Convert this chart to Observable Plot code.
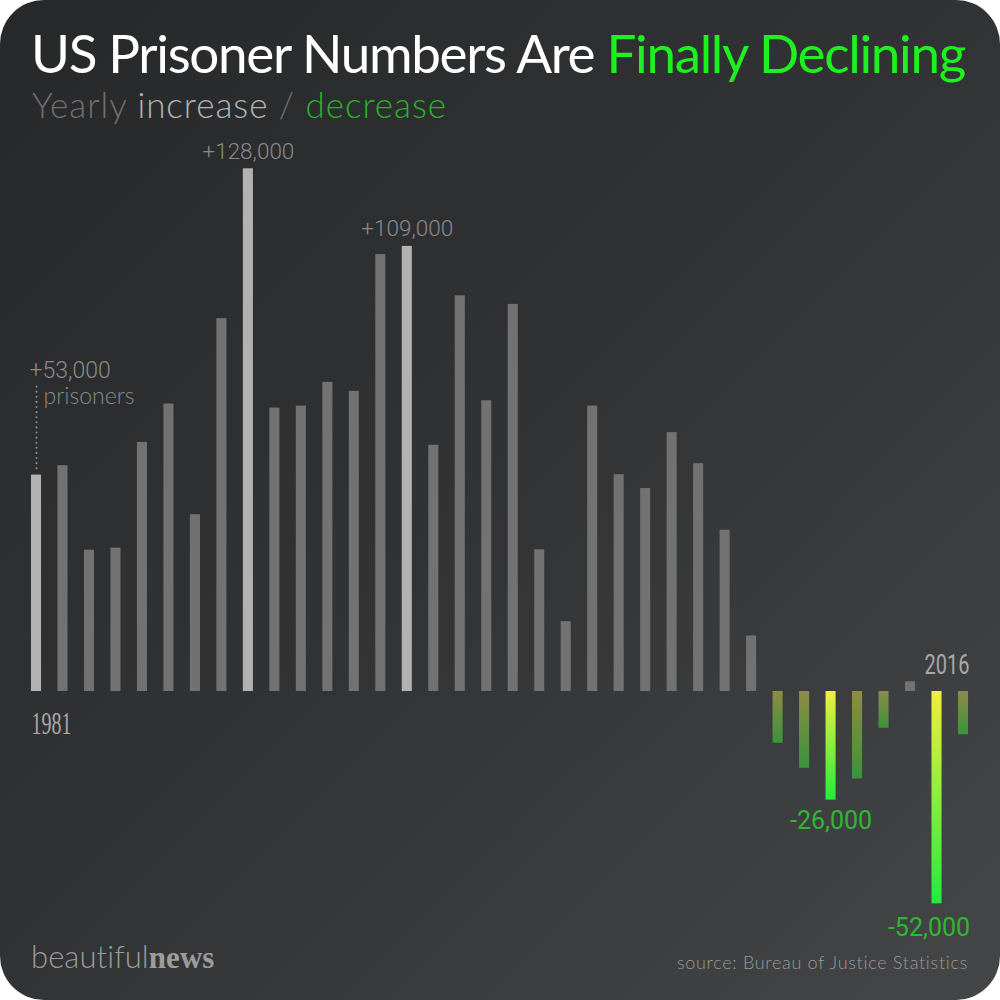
<!DOCTYPE html>
<html><head><meta charset="utf-8">
<script src="https://cdn.jsdelivr.net/npm/d3@7"></script>
<script src="https://cdn.jsdelivr.net/npm/@observablehq/plot@0.6"></script>
<style>
html,body{margin:0;padding:0;background:#fff;}
#card{position:relative;width:1000px;height:1000px;border-radius:44px;overflow:hidden;
  background:linear-gradient(135deg,#27282a 0%,#323335 50%,#454648 100%);font-family:Lato,"Noto Sans",sans-serif;}
.abs{position:absolute;white-space:nowrap;line-height:1;}
#title{left:31px;top:26px;font-size:53px;color:#fff;font-weight:400;}
#title .g{color:#1ff01f;}
#subtitle{left:32px;top:87px;font-size:35px;font-weight:300;color:#707070;}
#subtitle .inc{color:#b4b4b4;}
#subtitle .dec{color:#25b525;}
#brand{left:31px;top:941px;font-size:31px;color:#9c9c9c;}
#brand .b1{font-family:Lato,sans-serif;font-weight:300;}
#brand .b2{font-family:"Liberation Serif",serif;font-weight:700;}
#source{right:32px;top:953px;font-size:18px;font-weight:300;color:#9a9a9a;}
#chart{position:absolute;left:0;top:0;}
</style></head>
<body>
<div id="card">
  <div id="title" class="abs">US Prisoner Numbers Are <span class="g">Finally Declining</span></div>
  <div id="subtitle" class="abs">Yearly <span class="inc">increase</span> / <span class="dec">decrease</span></div>
  <div id="chart"></div>
  <div id="brand" class="abs"><span class="b1">beautiful</span><span class="b2">news</span></div>
  <div id="source" class="abs">source: Bureau of Justice Statistics</div>
</div>
<script>
// Yearly change in US prisoner numbers
const years = [1981,1982,1983,1984,1985,1986,1987,1988,1989,1990,1991,1992,1993,1994,1995,1996,1997,1998,
               1999,2000,2001,2002,2003,2004,2005,2006,2007,2008,2009,2010,2011,2012,2013,2014,2015,2016];
const changes = [53000,55300,34600,35100,61000,70400,43300,91300,128000,69400,69900,75700,73500,107000,109000,60300,96900,71200,
                 94800,34700,17100,69900,53100,49700,63400,55800,39500,13600,-12700,-18800,-26600,-21400,-9000,2400,-52000,-10600];
const highlightYears = [1981, 1989, 1995, 2011, 2015];
const peakLabelYears = [1989, 1995];
const peakLabels = ["+128,000", "+109,000"];
const dropLabelYears = [2011, 2015];
const dropLabels = ["-26,000", "-52,000"];
const firstLabel = ["+53,000", "prisoners"];
const yearTicks = [1981, 2016];

const data = years.map((year, i) => ({year, value: changes[i]}));
const byYear = new Map(data.map(d => [d.year, d]));
const peaks = peakLabelYears.map((y, i) => ({...byYear.get(y), label: peakLabels[i]}));
const drops = dropLabelYears.map((y, i) => ({...byYear.get(y), label: dropLabels[i]}));
const first = byYear.get(years[0]);

const isHi = d => highlightYears.includes(d.year);
const fillOf = d => d.value >= 0
  ? (isHi(d) ? "#b2b2b2" : "#727272")
  : (isHi(d) ? "url(#negHi)" : "url(#negLo)");

const gray = "#8a8a8a";
const green = "#2fb82f";

const svg = Plot.plot({
  width: 1000,
  height: 1000,
  style: {background: "transparent", overflow: "visible"},
  x: {type: "band", domain: years, range: [14.55, 984.45], padding: 0.62, round: false, axis: null},
  y: {type: "linear", domain: [0, 128000], range: [691, 168.3], axis: null},
  marks: [
    Plot.barY(data, {x: "year", y: "value", fill: fillOf}),
    Plot.ruleX([first], {x: "year", y1: "value", y2: "value", insetTop: -88, insetBottom: 5,
      stroke: "#8a8a8a", strokeWidth: 2, strokeDasharray: "0.1,5", strokeLinecap: "round"}),
    Plot.text([first], {x: "year", y: "value", text: () => firstLabel[0], textAnchor: "start", lineAnchor: "bottom",
      dx: -7, dy: -97, fontSize: 23, fill: gray, fontFamily: "Roboto", fontWeight: 300}),
    Plot.text([first], {x: "year", y: "value", text: () => firstLabel[1], textAnchor: "start", lineAnchor: "bottom",
      dx: 7, dy: -71, fontSize: 23, fill: gray, fontFamily: "Lato", fontWeight: 300}),
    Plot.text(peaks, {x: "year", y: "value", text: "label", textAnchor: "middle", lineAnchor: "bottom",
      dy: -10, fontSize: 22.5, fill: gray, fontFamily: "Roboto", fontWeight: 300}),
    Plot.text(drops.slice(0, 1), {x: "year", y: "value", text: "label", textAnchor: "middle", lineAnchor: "bottom",
      dy: 29, fontSize: 25, fill: green, fontFamily: "Roboto"}),
    Plot.text(drops.slice(1), {x: "year", y: "value", text: "label", textAnchor: "middle", lineAnchor: "bottom",
      dx: -8, dy: 32, fontSize: 25, fill: green, fontFamily: "Roboto"}),
    Plot.text([yearTicks[0]], {x: d => d, y: () => 0, text: d => String(d), textAnchor: "start", lineAnchor: "bottom",
      dx: -5, dy: 42, fontSize: 31, fill: "#a8a8a8", fontFamily: "Liberation Serif"}),
    Plot.text([yearTicks[1]], {x: d => d, y: () => 0, text: d => String(d), textAnchor: "end", lineAnchor: "bottom",
      dx: 6, dy: -18, fontSize: 27, fill: "#a8a8a8", fontFamily: "Roboto"})
  ]
});

// gradients for the decrease bars
const defs = d3.select(svg).insert("defs", ":first-child");
const grad = (id, c0, c1) => {
  const g = defs.append("linearGradient").attr("id", id).attr("x1", 0).attr("y1", 0).attr("x2", 0).attr("y2", 1);
  g.append("stop").attr("offset", "0%").attr("stop-color", c0);
  g.append("stop").attr("offset", "100%").attr("stop-color", c1);
};
grad("negLo", "#8e8c45", "#3b943b");
grad("negHi", "#f2ef3e", "#22ec3c");

// condensed year labels
const lens = {[String(yearTicks[0])]: 40, [String(yearTicks[1])]: 45};
d3.select(svg).selectAll("text").filter(function() { return lens[this.textContent] !== undefined; })
  .each(function() { d3.select(this).attr("textLength", lens[this.textContent]).attr("lengthAdjust", "spacingAndGlyphs"); });

document.getElementById("chart").appendChild(svg);

// fit header/footer text widths
function fit(id, target) {
  const el = document.getElementById(id);
  const w = el.getBoundingClientRect().width;
  const n = el.textContent.length;
  el.style.letterSpacing = ((target - w) / n) + "px";
}
fit("title", 934);
fit("subtitle", 415);
fit("source", 292);
fit("brand", 184);
</script>
</body></html>
